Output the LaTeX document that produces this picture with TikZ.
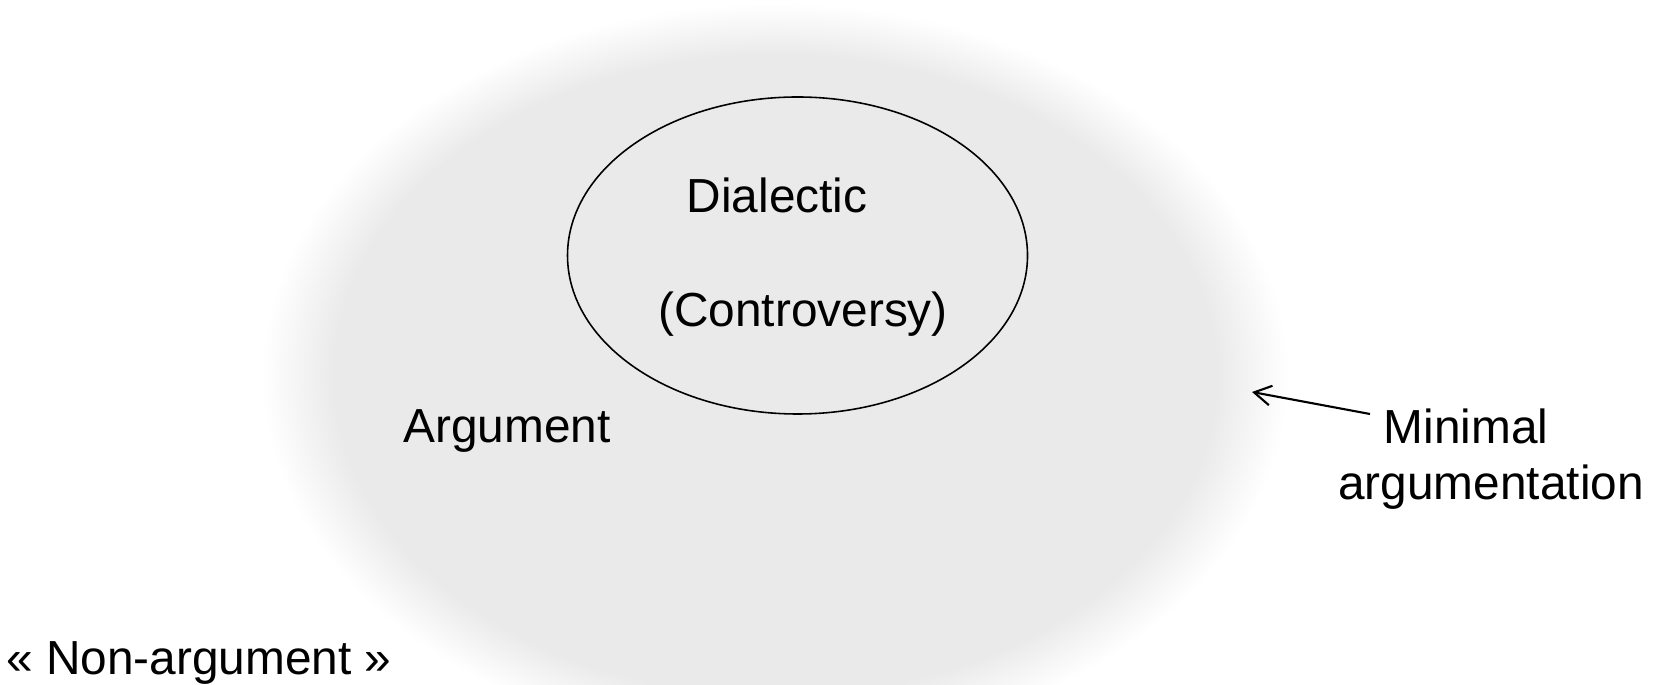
\documentclass[tikz,border=0pt]{standalone}
\usepackage{fontspec}
\setmainfont{Liberation Sans}
\usepackage{tikz}
\usetikzlibrary{arrows.meta, calc}

\definecolor{blobgray}{RGB}{234,234,234}
\pgfdeclareradialshading{blobfade}{\pgfpoint{0bp}{0bp}}{%
    color(0bp)=(blobgray); color(21.5bp)=(blobgray);
    color(25bp)=(white); color(50bp)=(white)}

\begin{document}
\begin{tikzpicture}[
        txt/.style={inner sep=0pt, font=\fontsize{13.6}{16.3}\selectfont}
    ]
        \clip (0, 0) rectangle (16.64, -6.85);
        \coordinate (mid) at (7.75, -3.75);
        \coordinate (dmid) at (7.975, -2.555);
        \shade [shading=blobfade] (mid) ellipse [x radius=5.13, y radius=3.72];
        \draw [line width=0.45pt] (dmid) ellipse [x radius=2.30, y radius=1.585];
        \node [txt] (dialectic) at (7.77, -1.95) {Dialectic};
        \node [txt] (controversy) at (8.03, -3.14) {(Controversy)};
        \node [txt] (argument) at (5.07, -4.31) {Argument};
        \node [txt] (minimal) at (14.66, -4.26) {Minimal};
        \node [txt] (argumentation) at (14.91, -4.87) {argumentation};
        \node [txt] (nonarg) at (1.99, -6.63) {« Non-argument »};
        \coordinate (tail) at (13.70, -4.14);
        \coordinate (tip) at (12.52, -3.92);
        \draw [line width=0.6pt, arrows={-{Straight Barb[length=4.8pt, width=5.6pt]}}] (tail) -- (tip);
    \end{tikzpicture}
\end{document}
